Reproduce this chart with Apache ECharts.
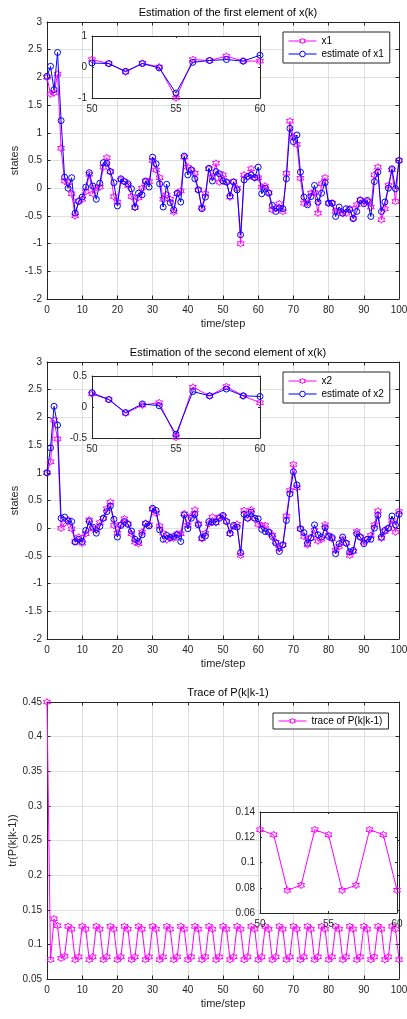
<!DOCTYPE html>
<html>
<head>
<meta charset="utf-8">
<script src="https://cdn.jsdelivr.net/npm/echarts@6/dist/echarts.min.js"></script>
<style>
html,body{margin:0;padding:0;background:#fff}
#main{width:407px;height:1019px}
</style>
</head>
<body>
<div id="main"></div>
<script>
// 状态 x1 及其估计
var x1 = [2.0,1.7,1.72,2.06,0.72,0.13,0.1,-0.1,-0.5,-0.23,
  -0.2,-0.06,0.25,-0.1,0.01,0.02,0.38,0.55,0.3,-0.15,
  -0.25,0.15,0.12,0.05,-0.15,-0.35,-0.17,0.0,0.12,0.12,
  0.5,0.33,0.19,-0.2,-0.12,-0.2,-0.43,-0.1,-0.05,0.56,
  0.38,0.33,0.27,-0.03,-0.35,-0.1,0.35,0.2,0.45,0.11,
  0.24,0.11,-0.16,0.12,0.0,-1.0,0.24,0.21,0.35,0.19,
  0.19,0.02,0.04,-0.08,-0.39,-0.36,-0.28,-0.42,0.27,1.21,
  0.92,0.79,0.18,-0.27,-0.27,-0.09,-0.08,-0.45,0.08,0.19,
  -0.27,-0.27,-0.42,-0.4,-0.46,-0.45,-0.37,-0.54,-0.3,-0.21,
  -0.25,-0.24,-0.34,0.24,0.38,-0.57,-0.37,0.05,0.33,-0.24,
  0.5];
var est1 = [2.02,2.2,1.78,2.45,1.22,0.2,0.0,0.19,-0.45,-0.24,
  -0.16,0.02,0.28,0.04,-0.2,0.09,0.46,0.45,0.3,0.1,
  -0.32,0.17,0.12,0.08,-0.01,-0.34,-0.09,-0.12,0.13,0.02,
  0.56,0.44,0.08,-0.34,0.07,-0.26,-0.39,-0.09,-0.25,0.58,
  0.24,0.33,0.17,-0.03,-0.37,-0.16,0.36,0.13,0.3,0.26,
  0.13,0.11,-0.14,0.11,-0.03,-0.84,0.15,0.21,0.24,0.19,
  0.38,-0.1,0.0,-0.09,-0.31,-0.42,-0.36,-0.37,0.17,1.08,
  0.84,0.96,0.29,-0.16,-0.3,-0.15,0.05,-0.25,-0.09,0.1,
  -0.27,-0.27,-0.51,-0.34,-0.45,-0.37,-0.39,-0.55,-0.42,-0.22,
  -0.28,-0.22,-0.51,0.12,0.29,-0.42,-0.25,0.0,0.35,-0.01,
  0.5];
// 状态 x2 及其估计
var x2 = [1.0,1.2,1.95,1.61,0.0,0.09,0.15,-0.01,-0.24,-0.16,
  -0.27,-0.1,0.15,-0.01,-0.03,0.1,0.18,0.35,0.47,0.05,
  -0.09,0.07,0.17,0.08,-0.1,-0.25,-0.28,-0.07,0.09,0.06,
  0.34,0.27,0.04,-0.09,-0.21,-0.16,-0.18,-0.1,-0.1,0.26,
  0.05,0.22,0.33,0.08,-0.19,-0.09,0.08,0.2,0.1,0.2,
  0.21,0.12,-0.1,0.03,0.07,-0.49,0.32,0.18,0.33,0.18,
  0.07,0.05,0.05,-0.07,-0.12,-0.25,-0.37,-0.3,0.22,0.68,
  1.15,0.73,-0.01,-0.15,-0.3,-0.18,-0.04,-0.23,-0.2,0.06,
  -0.13,-0.19,-0.4,-0.33,-0.2,-0.27,-0.49,-0.42,-0.06,-0.16,
  -0.25,-0.2,-0.13,0.06,0.31,-0.18,-0.06,0.0,0.14,-0.07,
  0.3];
var est2 = [1.0,1.45,2.2,1.86,0.18,0.2,0.13,0.12,-0.25,-0.2,
  -0.24,-0.04,0.12,0.02,-0.09,0.03,0.18,0.3,0.4,0.16,
  -0.16,0.05,0.12,0.07,-0.05,-0.2,-0.24,-0.12,0.08,0.04,
  0.36,0.32,-0.03,-0.2,-0.13,-0.17,-0.15,-0.12,-0.24,0.24,
  -0.01,0.18,0.25,0.06,-0.17,-0.14,0.12,0.11,0.11,0.18,
  0.23,0.12,-0.09,0.05,0.02,-0.44,0.25,0.18,0.29,0.18,
  0.17,-0.02,-0.06,-0.07,-0.15,-0.27,-0.42,-0.3,0.14,0.62,
  1.02,0.78,-0.01,-0.08,-0.27,-0.17,0.06,-0.12,-0.16,0.01,
  -0.15,-0.17,-0.46,-0.28,-0.16,-0.27,-0.43,-0.4,-0.1,-0.16,
  -0.28,-0.2,-0.2,0.0,0.23,-0.16,-0.04,0.0,0.22,0.06,
  0.25];
// P(k|k-1) 的迹
var trace = [0.45,0.078,0.137,0.127,0.080,0.083,0.126,0.122,0.078,0.082,
  0.126,0.122,0.078,0.082,0.126,0.122,0.078,0.082,0.126,0.122,
  0.078,0.082,0.126,0.122,0.078,0.082,0.126,0.122,0.078,0.082,
  0.126,0.122,0.078,0.082,0.126,0.122,0.078,0.082,0.126,0.122,
  0.078,0.082,0.126,0.122,0.078,0.082,0.126,0.122,0.078,0.082,
  0.126,0.122,0.078,0.082,0.126,0.122,0.078,0.082,0.126,0.122,
  0.078,0.082,0.126,0.122,0.078,0.082,0.126,0.122,0.078,0.082,
  0.126,0.122,0.078,0.082,0.126,0.122,0.078,0.082,0.126,0.122,
  0.078,0.082,0.126,0.122,0.078,0.082,0.126,0.122,0.078,0.082,
  0.126,0.122,0.078,0.082,0.126,0.122,0.078,0.082,0.126,0.122,
  0.078];

var steps = [];
for (var i = 0; i < x1.length; i++) steps.push(i);

function pairs(arr, from, to) {
    var out = [];
    for (var i = from; i <= to; i++) out.push([steps[i], arr[i]]);
    return out;
}

var FONT = 'Liberation Sans, Arial, sans-serif';
var AX = '#262626';
var star = 'path://M10 0L12.887 5L18.66 5L15.77 10L18.66 15L12.887 15L10 20L7.113 15L1.34 15L4.23 10L1.34 5L7.113 5Z';

var grids = [
    {left: 47, width: 352, top: 22, height: 277},
    {left: 92, width: 168, top: 36, height: 62, show: true, backgroundColor: '#fff', borderWidth: 0, z: 4},
    {left: 47, width: 352, top: 362, height: 277},
    {left: 92, width: 168, top: 376, height: 62, show: true, backgroundColor: '#fff', borderWidth: 0, z: 4},
    {left: 47, width: 352, top: 702, height: 277},
    {left: 260, width: 137, top: 812, height: 101, show: true, backgroundColor: '#fff', borderWidth: 0, z: 4}
];
grids.forEach(function (g) { g.containLabel = false; g.outerBoundsMode = 'none'; });

var xAxes = [], yAxes = [];
// 每个坐标区：下/上 x 轴，左/右 y 轴
function addAxes(g, xr, yr, inset, yname, ynameGap) {
    var zz = inset ? 5 : 0;
    var tickLen = inset ? 2 : 3.5;
    var base = {
        gridIndex: g, type: 'value', z: zz,
        axisLine: {show: true, onZero: false, lineStyle: {color: AX, width: 1}},
        axisTick: {show: true, inside: true, length: tickLen, lineStyle: {color: AX}},
        axisLabel: {color: AX, fontSize: 10, fontFamily: FONT, margin: 5},
        nameTextStyle: {color: AX, fontSize: 11, fontFamily: FONT},
        nameMoveOverlap: false
    };
    xAxes.push(Object.assign({}, base, {
        position: 'bottom', min: xr[0], max: xr[1], interval: xr[2],
        splitLine: {show: !inset, lineStyle: {color: '#dfdfdf'}},
        axisLabel: Object.assign({}, base.axisLabel, {margin: 6}),
        name: inset ? '' : 'time/step', nameLocation: 'middle', nameGap: 19
    }));
    xAxes.push(Object.assign({}, base, {
        position: 'top', min: xr[0], max: xr[1], interval: xr[2],
        splitLine: {show: false}, axisLabel: {show: false}
    }));
    yAxes.push(Object.assign({}, base, {
        position: 'left', min: yr[0], max: yr[1], interval: yr[2],
        splitLine: {show: !inset, lineStyle: {color: '#dfdfdf'}},
        name: yname || '', nameLocation: 'middle', nameGap: ynameGap || 27
    }));
    yAxes.push(Object.assign({}, base, {
        position: 'right', min: yr[0], max: yr[1], interval: yr[2],
        splitLine: {show: false}, axisLabel: {show: false}
    }));
}

addAxes(0, [0, 100, 10], [-2, 3, 0.5], false, 'states', 27);
addAxes(1, [50, 60, 5], [-1, 1, 1], true);
addAxes(2, [0, 100, 10], [-2, 3, 0.5], false, 'states', 27);
addAxes(3, [50, 60, 5], [-0.5, 0.5, 0.5], true);
addAxes(4, [0, 100, 10], [0.05, 0.45, 0.05], false, 'tr(P(k|k-1))', 29);
addAxes(5, [50, 60, 5], [0.06, 0.14, 0.02], true);

function magSeries(name, g, data, inset) {
    return {
        name: name, type: 'line', xAxisIndex: 2 * g, yAxisIndex: 2 * g,
        data: data, symbol: star, symbolSize: 7, z: inset ? 6 : 2,
        lineStyle: {color: '#ff00ff', width: 1},
        itemStyle: {color: 'rgba(255,0,255,0)', borderColor: '#ff00ff', borderWidth: 1},
        animation: false
    };
}
function blueSeries(name, g, data, inset) {
    return {
        name: name, type: 'line', xAxisIndex: 2 * g, yAxisIndex: 2 * g,
        data: data, symbol: 'circle', symbolSize: 6, z: inset ? 7 : 3,
        lineStyle: {color: '#0000ff', width: 1},
        itemStyle: {color: 'rgba(0,0,255,0)', borderColor: '#0000ff', borderWidth: 1},
        animation: false
    };
}

var series = [
    magSeries('x1', 0, pairs(x1, 0, 100), false),
    blueSeries('estimate of x1', 0, pairs(est1, 0, 100), false),
    magSeries('x1', 1, pairs(x1, 50, 60), true),
    blueSeries('estimate of x1', 1, pairs(est1, 50, 60), true),
    magSeries('x2', 2, pairs(x2, 0, 100), false),
    blueSeries('estimate of x2', 2, pairs(est2, 0, 100), false),
    magSeries('x2', 3, pairs(x2, 50, 60), true),
    blueSeries('estimate of x2', 3, pairs(est2, 50, 60), true),
    magSeries('trace of P(k|k-1)', 4, pairs(trace, 0, 100), false),
    magSeries('trace of P(k|k-1)', 5, pairs(trace, 50, 60), true)
];

function legendItem(name, col) {
    return {
        name: name,
        itemStyle: {color: '#fff', borderColor: col, borderWidth: 1},
        lineStyle: {color: col, width: 1}
    };
}

var legendBase = {
    orient: 'vertical', backgroundColor: '#fff', borderColor: AX, borderWidth: 1,
    itemWidth: 28, itemHeight: 7, itemGap: 3, padding: [4, 6, 4, 5],
    textStyle: {fontSize: 10, fontFamily: FONT, color: '#000'}, selectedMode: false
};

var option = {
    animation: false,
    title: [
        {text: 'Estimation of the first element of x(k)', left: 223, top: 2, textAlign: 'center',
         textStyle: {fontSize: 11, fontWeight: 'normal', color: '#000', fontFamily: FONT}},
        {text: 'Estimation of the second element of x(k)', left: 223, top: 342, textAlign: 'center',
         textStyle: {fontSize: 11, fontWeight: 'normal', color: '#000', fontFamily: FONT}},
        {text: 'Trace of P(k|k-1)', left: 223, top: 682, textAlign: 'center',
         textStyle: {fontSize: 11, fontWeight: 'normal', color: '#000', fontFamily: FONT}}
    ],
    legend: [
        Object.assign({}, legendBase, {left: 283, top: 32,
            data: [legendItem('x1', '#ff00ff'), legendItem('estimate of x1', '#0000ff')]}),
        Object.assign({}, legendBase, {left: 283, top: 372,
            data: [legendItem('x2', '#ff00ff'), legendItem('estimate of x2', '#0000ff')]}),
        Object.assign({}, legendBase, {left: 273, top: 713, padding: [3, 6, 3, 5],
            data: [legendItem('trace of P(k|k-1)', '#ff00ff')]})
    ],
    grid: grids,
    xAxis: xAxes,
    yAxis: yAxes,
    series: series
};

var myChart = echarts.init(document.getElementById('main'));
myChart.setOption(option);
window.onresize = myChart.resize;
</script>
</body>
</html>
